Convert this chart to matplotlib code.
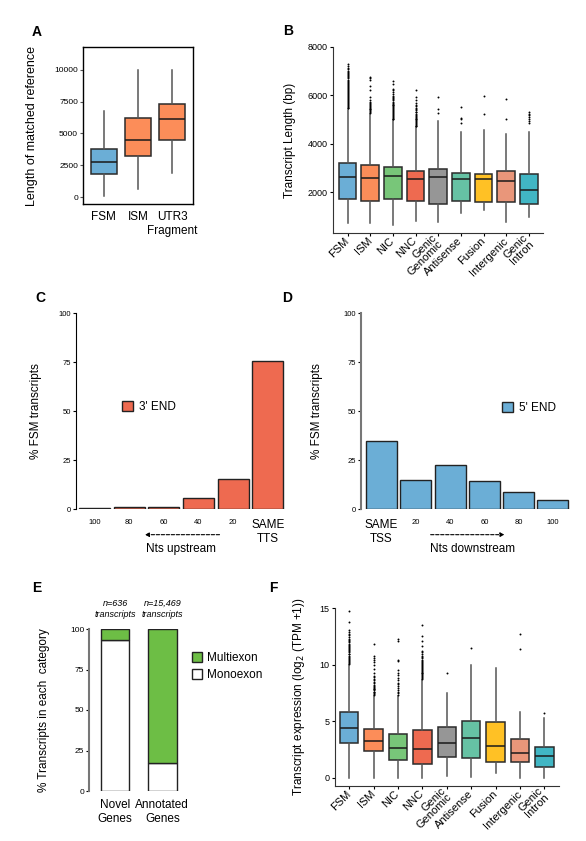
import matplotlib
matplotlib.use("Agg")
import matplotlib.pyplot as plt

plt.rcParams['font.family'] = ['Liberation Sans', 'DejaVu Sans']

W, H = 586, 841

# ---- panel A: length of matched reference
a_cats = ['FSM', 'ISM', 'UTR3\nFragment']
a_colors = ['#6BAED6', '#FC8D59', '#FC8D59']
a_q1 = [1800, 3200, 4500]
a_med = [2750, 4500, 6100]
a_q3 = [3800, 6200, 7350]
a_lo = [100, 600, 1900]
a_hi = [6750, 10000, 10000]

# ---- structural categories (B and F)
sq_cats = ['FSM', 'ISM', 'NIC', 'NNC', 'Genic\nGenomic', 'Antisense',
           'Fusion', 'Intergenic', 'Genic\nIntron']
sq_colors = ['#6BAED6', '#FC8D59', '#78C679', '#EE6A50', '#969696',
             '#66C2A4', '#FFC125', '#E9967A', '#41B6C4']

# B: transcript length (bp)
b_q1 = [1724, 1628, 1724, 1628, 1490, 1614, 1586, 1586, 1490]
b_med = [2620, 2580, 2650, 2524, 2620, 2550, 2550, 2441, 2097]
b_q3 = [3214, 3100, 3034, 2870, 2966, 2786, 2760, 2870, 2760]
b_lo = [717, 717, 620, 800, 760, 1131, 1241, 759, 966]
b_hi = [5380, 5240, 4966, 4690, 4940, 4483, 4552, 4414, 4483]
b_fliers = [
    [5460, 5490, 5530, 5570, 5600, 5640, 5690, 5720, 5760, 5810, 5850, 5880,
     5930, 5970, 6010, 6050, 6090, 6140, 6180, 6220, 6260, 6310, 6350, 6390,
     6440, 6480, 6520, 6570, 6610, 6650, 6700, 6740, 6790, 6830, 6880, 6920,
     6970, 7020, 7080, 7150, 7230, 7300],
    [5280, 5310, 5350, 5380, 5420, 5450, 5490, 5520, 5560, 5600, 5630, 5680,
     5720, 5790, 5930, 6230, 6370, 6620, 6700, 6760],
    [5010, 5040, 5080, 5110, 5150, 5190, 5230, 5260, 5300, 5340, 5380, 5420,
     5460, 5500, 5540, 5580, 5620, 5660, 5700, 5740, 5790, 5830, 5880, 5930,
     5990, 6070, 6150, 6210, 6276, 6480, 6590],
    [4720, 4750, 4790, 4820, 4860, 4900, 4930, 4970, 5010, 5040, 5080, 5120,
     5160, 5200, 5240, 5290, 5330, 5380, 5430, 5480, 5540, 5610, 5700, 5800,
     5930, 6207],
    [5270, 5450, 5930],
    [4860, 5030, 5080, 5520],
    [5240, 5970],
    [5030, 5830],
    [4860, 4930, 5030, 5100, 5170, 5240, 5310],
]

# F: transcript expression log2(TPM+1)
f_q1 = [3.10, 2.36, 1.56, 1.18, 1.80, 1.77, 1.42, 1.36, 0.92]
f_med = [4.37, 3.28, 2.66, 2.54, 3.04, 3.48, 2.83, 2.16, 1.95]
f_q3 = [5.85, 4.28, 3.84, 4.22, 4.46, 5.05, 4.90, 3.42, 2.75]
f_lo = [0, 0, 0, 0, 0.15, 0.09, 0.38, 0, 0]
f_hi = [10.0, 7.23, 7.23, 8.65, 7.47, 9.98, 9.68, 5.79, 5.31]
f_fliers = [
    [10.04, 10.12, 10.23, 10.31, 10.42, 10.5, 10.61, 10.7, 10.78, 10.9, 10.97,
     11.08, 11.17, 11.26, 11.38, 11.46, 11.55, 11.67, 11.76, 11.84, 11.96,
     12.07, 12.18, 12.3, 12.44, 12.57, 12.71, 12.86, 13.05, 13.8, 14.7],
    [7.3, 7.38, 7.47, 7.55, 7.62, 7.71, 7.8, 7.87, 7.96, 8.05, 8.14, 8.22,
     8.33, 8.45, 8.6, 8.74, 8.9, 9.02, 9.3, 9.6, 9.95, 10.2, 10.38, 10.6,
     10.8, 11.85],
    [7.32, 7.45, 7.6, 7.78, 7.9, 8.1, 8.25, 8.4, 8.6, 8.8, 9.05, 9.3, 9.55,
     10.3, 10.42, 12.05, 12.28],
    [8.72, 8.8, 8.88, 8.97, 9.05, 9.13, 9.22, 9.3, 9.38, 9.47, 9.55, 9.64,
     9.72, 9.8, 9.9, 9.98, 10.07, 10.16, 10.25, 10.35, 10.44, 10.55, 10.66,
     10.8, 10.95, 11.1, 11.2, 11.6, 12.05, 12.49, 13.46],
    [9.3],
    [11.5],
    [],
    [11.4, 12.7],
    [5.7],
]

# ---- C: 3' end distance to TTS
c_labels = ['100', '80', '60', '40', '20', 'SAME\nTTS']
c_vals = [0.7, 1.0, 1.2, 5.6, 15.5, 75.7]

# ---- D: 5' end distance to TSS
d_labels = ['SAME\nTSS', '20', '40', '60', '80', '100']
d_vals = [34.9, 14.8, 22.6, 14.1, 8.5, 4.8]

# ---- E: mono/multi exon
e_cats = ['Novel\nGenes', 'Annotated\nGenes']
e_mono = [93.5, 17.5]
e_multi = [6.5, 82.5]
e_n = ['n=636', 'n=15,469']


def px_axes(fig, left, top, right, bottom):
    return fig.add_axes([left / W, 1 - bottom / H, (right - left) / W,
                         (bottom - top) / H])


def ylabel_at(ax, text, xpix, left, right, size=8.5):
    ax.set_ylabel(text, fontsize=size)
    ax.yaxis.set_label_coords((xpix - left) / (right - left), 0.5)


def boxes(ax, q1, med, q3, lo, hi, fliers, colors, width):
    stats = []
    for i in range(len(q1)):
        stats.append(dict(q1=q1[i], med=med[i], q3=q3[i], whislo=lo[i],
                          whishi=hi[i], fliers=fliers[i]))
    bp = ax.bxp(stats, positions=range(1, len(q1) + 1), widths=width,
                patch_artist=True, showcaps=False, manage_ticks=False,
                boxprops=dict(edgecolor='#2b2b2b', linewidth=1.1),
                whiskerprops=dict(color='#555555', linewidth=1.1),
                medianprops=dict(color='#1a1a1a', linewidth=1.1),
                flierprops=dict(marker='o', markersize=1.4,
                                markerfacecolor='black',
                                markeredgecolor='none'))
    for patch, c in zip(bp['boxes'], colors):
        patch.set_facecolor(c)
    return bp


fig = plt.figure(figsize=(W / 100, H / 100), dpi=100)

# %% A
L, T, R, B = 83, 47, 193, 204
axA = px_axes(fig, L, T, R, B)
boxes(axA, a_q1, a_med, a_q3, a_lo, a_hi, [[], [], []], a_colors, 0.75)
axA.set_xlim(0.4, 3.6)
axA.set_ylim(-550, 11800)
axA.set_yticks([0, 2500, 5000, 7500, 10000])
axA.set_xticks([1, 2, 3], a_cats)
axA.tick_params(axis='y', labelsize=6, length=2, color='#555555', pad=1.5)
axA.tick_params(axis='x', labelsize=8.5, length=0, pad=5)
for s in axA.spines.values():
    s.set_linewidth(1.0)
ylabel_at(axA, 'Length of matched reference', 38, L, R, 9)

# %% B
L, T, R, B = 333, 47, 543, 233
axB = px_axes(fig, L, T, R, B)
boxes(axB, b_q1, b_med, b_q3, b_lo, b_hi, b_fliers, sq_colors, 0.78)
axB.set_xlim(0.36, 9.62)
axB.set_ylim(304, 8000)
axB.set_yticks([2000, 4000, 6000, 8000])
axB.set_xticks(range(1, 10), sq_cats)
axB.tick_params(axis='y', labelsize=6.5, length=2.5, pad=1.5)
axB.tick_params(axis='x', labelsize=8, length=2.5, pad=2)
for lbl in axB.get_xticklabels():
    lbl.set_rotation(45)
    lbl.set_ha('right')
    lbl.set_va('center')
    lbl.set_rotation_mode('anchor')
    lbl.set_linespacing(0.85)
axB.spines[['top', 'right']].set_visible(False)
for s in ['left', 'bottom']:
    axB.spines[s].set_color('#333333')
ylabel_at(axB, 'Transcript Length (bp)', 296, L, R, 8.5)

# %% C
L, T, R, B = 76, 313, 285, 509
axC = px_axes(fig, L, T, R, B)
axC.bar(range(6), c_vals, width=0.9, color='#EE6A50', edgecolor='#222222',
        linewidth=1.0, label="3' END")
axC.set_xlim(-0.54, 5.5)
axC.set_ylim(0, 100)
axC.set_yticks([0, 25, 50, 75, 100])
axC.set_xticks(range(6), c_labels)
axC.tick_params(axis='y', labelsize=5.5, length=2, pad=1.5)
axC.tick_params(axis='x', labelsize=5.5, length=0, pad=7)
axC.get_xticklabels()[-1].set_fontsize(8.5)
axC.spines[['top', 'right', 'bottom']].set_visible(False)
ylabel_at(axC, '% FSM transcripts', 42, L, R, 8.5)
axC.legend(loc='center left', bbox_to_anchor=(0.22, 0.52), frameon=False,
           fontsize=8.5, handlelength=0.9, handleheight=0.9,
           handletextpad=0.5, borderpad=0, borderaxespad=0)
axC.annotate('', xy=(0.316, -0.131), xytext=(0.70, -0.131),
             xycoords='axes fraction',
             arrowprops=dict(arrowstyle='-|>', linestyle=(0, (3, 1.5)),
                             lw=0.8, color='black', mutation_scale=6))
axC.text(0.5, -0.203, 'Nts upstream', transform=axC.transAxes,
         ha='center', va='center', fontsize=8.5)

# %% D
L, T, R, B = 361, 313, 570, 509
axD = px_axes(fig, L, T, R, B)
axD.bar(range(6), d_vals, width=0.9, color='#6BAED6', edgecolor='#222222',
        linewidth=1.0, label="5' END")
axD.set_xlim(-0.6, 5.5)
axD.set_ylim(0, 100)
axD.set_yticks([0, 25, 50, 75, 100])
axD.set_xticks(range(6), d_labels)
axD.tick_params(axis='y', labelsize=5.5, length=2, pad=1.5)
axD.tick_params(axis='x', labelsize=5.5, length=0, pad=7)
axD.get_xticklabels()[0].set_fontsize(8.5)
axD.spines[['top', 'right', 'bottom']].set_visible(False)
axD.spines['left'].set_color('#777777')
axD.spines['left'].set_linewidth(1.5)
ylabel_at(axD, '% FSM transcripts', 323, L, R, 8.5)
axD.legend(loc='center left', bbox_to_anchor=(0.675, 0.515), frameon=False,
           fontsize=8.5, handlelength=0.9, handleheight=0.9,
           handletextpad=0.5, borderpad=0, borderaxespad=0)
axD.annotate('', xy=(0.70, -0.131), xytext=(0.32, -0.131),
             xycoords='axes fraction',
             arrowprops=dict(arrowstyle='-|>', linestyle=(0, (3, 1.5)),
                             lw=0.8, color='black', mutation_scale=6))
axD.text(0.536, -0.203, 'Nts downstream', transform=axD.transAxes,
         ha='center', va='center', fontsize=8.5)

# %% E
L, T, R, B = 89, 629, 186, 791
axE = px_axes(fig, L, T, R, B)
axE.bar(range(2), e_mono, width=0.6, color='white', edgecolor='#222222',
        linewidth=1.0, label='Monoexon')
axE.bar(range(2), e_multi, bottom=e_mono, width=0.6, color='#6DBE45',
        edgecolor='#222222', linewidth=1.0, label='Multiexon')
axE.set_xlim(-0.55, 1.5)
axE.set_ylim(0, 100)
axE.set_yticks([0, 25, 50, 75, 100])
axE.set_xticks(range(2), e_cats)
axE.tick_params(axis='y', labelsize=6, length=2, pad=1.5)
axE.tick_params(axis='x', labelsize=8.5, length=0, pad=6)
axE.spines[['top', 'right', 'bottom']].set_visible(False)
axE.spines['left'].set_color('#777777')
axE.spines['left'].set_linewidth(1.5)
ylabel_at(axE, '% Transcripts in each  category', 50, L, R, 8.5)
for i, n in enumerate(e_n):
    axE.text(i, 112.4, n + '\ntranscripts', ha='center', va='center',
             style='italic', fontsize=6.5, clip_on=False)
h, l = axE.get_legend_handles_labels()
axE.legend(h[::-1], l[::-1], loc='upper left', bbox_to_anchor=(1.06, 0.86),
           frameon=False, fontsize=8.5, handlelength=0.9, handleheight=0.9,
           handletextpad=0.4, labelspacing=0.45, borderpad=0,
           borderaxespad=0)

# %% F
L, T, R, B = 335, 608, 559, 786
axF = px_axes(fig, L, T, R, B)
boxes(axF, f_q1, f_med, f_q3, f_lo, f_hi, f_fliers, sq_colors, 0.75)
axF.set_xlim(0.42, 9.6)
axF.set_ylim(-0.73, 15)
axF.set_yticks([0, 5, 10, 15])
axF.set_xticks(range(1, 10), sq_cats)
axF.tick_params(axis='y', labelsize=6.5, length=2.5, pad=1.5)
axF.tick_params(axis='x', labelsize=8, length=2.5, pad=2)
for lbl in axF.get_xticklabels():
    lbl.set_rotation(45)
    lbl.set_ha('right')
    lbl.set_va('center')
    lbl.set_rotation_mode('anchor')
    lbl.set_linespacing(0.85)
axF.spines[['top', 'right']].set_visible(False)
for s in ['left', 'bottom']:
    axF.spines[s].set_color('#333333')
ylabel_at(axF, 'Transcript expression (log$_2$ (TPM +1))', 307, L, R, 8.5)

# panel letters
for letter, x, y in [('A', 37, 32), ('B', 288, 31), ('C', 40, 298),
                     ('D', 287, 298), ('E', 37, 588), ('F', 273, 588)]:
    fig.text(x / W, 1 - y / H, letter, fontsize=10, fontweight='bold',
             ha='center', va='center')

fig.savefig('out.png', dpi=100)
